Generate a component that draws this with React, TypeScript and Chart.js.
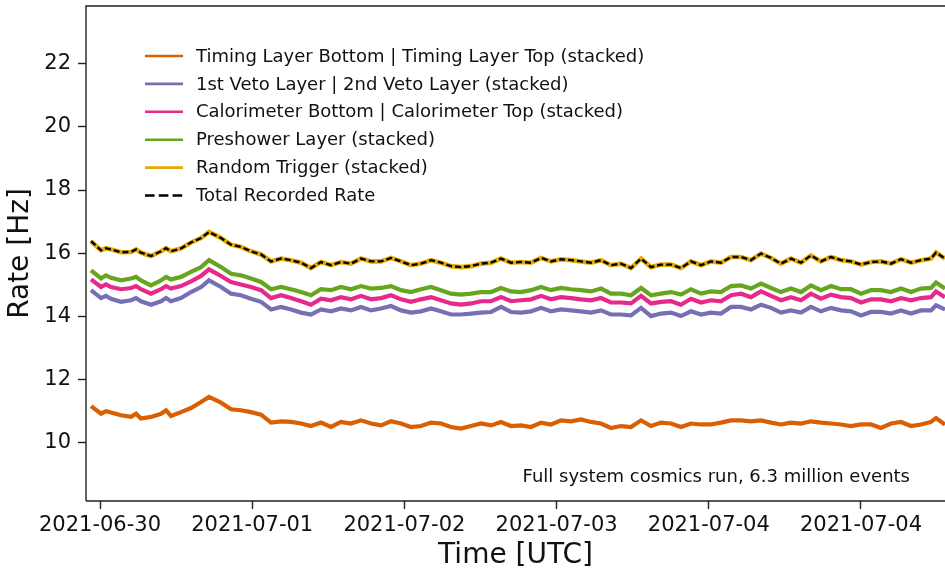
import React, { useEffect, useRef } from 'react';
import { Chart, registerables } from 'chart.js';

Chart.register(...registerables);

// time in days relative to the first date tick
const TIME_DAYS = [
  -0.059, 0.007, 0.039, 0.072, 0.138, 0.204, 0.237, 0.269, 0.335, 0.401, 0.434, 0.466, 0.532, 0.598, 0.664, 0.716, 0.795, 0.861, 0.926, 0.992, 1.058, 1.124, 1.189, 1.255,
  1.321, 1.386, 1.452, 1.518, 1.583, 1.649, 1.715, 1.781, 1.846, 1.912, 1.978, 2.043, 2.109, 2.175, 2.24, 2.306, 2.372, 2.438, 2.503, 2.569, 2.635, 2.7,
  2.766, 2.832, 2.898, 2.963, 3.029, 3.095, 3.16, 3.226, 3.292, 3.357, 3.423, 3.489, 3.555, 3.62, 3.686, 3.752, 3.817, 3.883, 3.949, 4.014, 4.08, 4.146,
  4.212, 4.277, 4.343, 4.409, 4.474, 4.54, 4.606, 4.671, 4.737, 4.803, 4.869, 4.934, 5.0, 5.066, 5.131, 5.197, 5.263, 5.329, 5.394, 5.46, 5.493, 5.552,
];

const TIMING_STACKED = [
  11.16, 10.92, 11.0, 10.96, 10.87, 10.82, 10.92, 10.77, 10.82, 10.92, 11.03, 10.85, 10.97, 11.1, 11.29, 11.45, 11.27, 11.06, 11.03, 10.97, 10.89, 10.64, 10.68, 10.66,
  10.61, 10.53, 10.64, 10.5, 10.66, 10.61, 10.71, 10.61, 10.55, 10.68, 10.61, 10.5, 10.53, 10.64, 10.61, 10.5, 10.45, 10.53, 10.61, 10.55, 10.66, 10.53,
  10.55, 10.5, 10.64, 10.58, 10.71, 10.68, 10.74, 10.66, 10.61, 10.47, 10.53, 10.5, 10.71, 10.53, 10.64, 10.61, 10.5, 10.61, 10.58, 10.58, 10.64, 10.71,
  10.71, 10.68, 10.71, 10.64, 10.58, 10.64, 10.61, 10.68, 10.64, 10.61, 10.58, 10.53, 10.58, 10.58, 10.47, 10.61, 10.66, 10.53, 10.58, 10.66, 10.78, 10.58,
];

const VETO_STACKED = [
  14.83, 14.58, 14.65, 14.56, 14.46, 14.51, 14.58, 14.48, 14.37, 14.48, 14.58, 14.48, 14.58, 14.77, 14.93, 15.14, 14.93, 14.72, 14.67, 14.56, 14.46, 14.22, 14.3, 14.22,
  14.12, 14.06, 14.22, 14.16, 14.25, 14.19, 14.3, 14.19, 14.25, 14.33, 14.19, 14.12, 14.16, 14.25, 14.16, 14.06, 14.06, 14.09, 14.12, 14.14, 14.3, 14.14,
  14.12, 14.16, 14.27, 14.16, 14.22, 14.19, 14.16, 14.12, 14.19, 14.06, 14.06, 14.03, 14.27, 14.01, 14.09, 14.12, 14.01, 14.16, 14.06, 14.12, 14.09, 14.3,
  14.3, 14.22, 14.37, 14.27, 14.12, 14.19, 14.12, 14.3, 14.16, 14.27, 14.19, 14.16, 14.03, 14.14, 14.14, 14.09, 14.19, 14.09, 14.19, 14.19, 14.35, 14.22,
];

const CALO_STACKED = [
  15.17, 14.93, 15.01, 14.93, 14.86, 14.9, 14.96, 14.86, 14.72, 14.86, 14.96, 14.88, 14.96, 15.11, 15.28, 15.49, 15.28, 15.09, 15.01, 14.93, 14.83, 14.58, 14.67, 14.58,
  14.48, 14.37, 14.56, 14.51, 14.61, 14.54, 14.65, 14.54, 14.58, 14.67, 14.54, 14.46, 14.54, 14.61, 14.51, 14.41, 14.37, 14.41, 14.48, 14.48, 14.61, 14.48,
  14.51, 14.54, 14.65, 14.54, 14.61, 14.58, 14.54, 14.51, 14.58, 14.44, 14.44, 14.41, 14.65, 14.41, 14.46, 14.48, 14.37, 14.56, 14.44, 14.51, 14.48, 14.67,
  14.72, 14.61, 14.79, 14.65, 14.51, 14.61, 14.51, 14.72, 14.56, 14.69, 14.61, 14.58, 14.44, 14.54, 14.54, 14.48, 14.58, 14.51, 14.58, 14.61, 14.79, 14.61,
];

const PRESHOWER_STACKED = [
  15.46, 15.2, 15.3, 15.22, 15.14, 15.2, 15.25, 15.14, 14.98, 15.14, 15.25, 15.17, 15.25, 15.41, 15.56, 15.78, 15.56, 15.35, 15.3, 15.2, 15.09, 14.86, 14.93, 14.86,
  14.77, 14.67, 14.86, 14.83, 14.93, 14.86, 14.96, 14.88, 14.9, 14.96, 14.83, 14.77, 14.86, 14.93, 14.83, 14.72, 14.69, 14.72, 14.77, 14.77, 14.9, 14.79,
  14.77, 14.83, 14.93, 14.83, 14.9, 14.86, 14.83, 14.79, 14.88, 14.72, 14.72, 14.67, 14.9, 14.67, 14.72, 14.77, 14.69, 14.86, 14.72, 14.79, 14.77, 14.96,
  14.98, 14.88, 15.04, 14.9, 14.77, 14.88, 14.77, 14.98, 14.83, 14.96, 14.86, 14.86, 14.72, 14.83, 14.83, 14.77, 14.88, 14.77, 14.88, 14.9, 15.07, 14.88,
];

const RANDOM_STACKED = [
  16.38, 16.09, 16.16, 16.12, 16.03, 16.04, 16.12, 16.02, 15.91, 16.06, 16.16, 16.06, 16.15, 16.34, 16.48, 16.67, 16.48, 16.27, 16.2, 16.06, 15.96, 15.74, 15.83, 15.78,
  15.7, 15.53, 15.72, 15.62, 15.72, 15.67, 15.83, 15.74, 15.74, 15.85, 15.74, 15.62, 15.67, 15.78, 15.7, 15.59, 15.56, 15.59, 15.67, 15.7, 15.83, 15.7,
  15.72, 15.7, 15.85, 15.74, 15.81, 15.78, 15.74, 15.7, 15.78, 15.62, 15.67, 15.53, 15.83, 15.56, 15.64, 15.64, 15.53, 15.74, 15.62, 15.74, 15.7, 15.88,
  15.88, 15.78, 15.99, 15.85, 15.67, 15.83, 15.7, 15.93, 15.74, 15.88, 15.78, 15.74, 15.64, 15.72, 15.74, 15.67, 15.81, 15.7, 15.78, 15.83, 16.02, 15.83,
];

const TOTAL_RATE = [
  16.38, 16.09, 16.16, 16.12, 16.03, 16.04, 16.12, 16.02, 15.91, 16.06, 16.16, 16.06, 16.15, 16.34, 16.48, 16.67, 16.48, 16.27, 16.2, 16.06, 15.96, 15.74, 15.83, 15.78,
  15.7, 15.53, 15.72, 15.62, 15.72, 15.67, 15.83, 15.74, 15.74, 15.85, 15.74, 15.62, 15.67, 15.78, 15.7, 15.59, 15.56, 15.59, 15.67, 15.7, 15.83, 15.7,
  15.72, 15.7, 15.85, 15.74, 15.81, 15.78, 15.74, 15.7, 15.78, 15.62, 15.67, 15.53, 15.83, 15.56, 15.64, 15.64, 15.53, 15.74, 15.62, 15.74, 15.7, 15.88,
  15.88, 15.78, 15.99, 15.85, 15.67, 15.83, 15.7, 15.93, 15.74, 15.88, 15.78, 15.74, 15.64, 15.72, 15.74, 15.67, 15.81, 15.7, 15.78, 15.83, 16.02, 15.83,
];

const SERIES_LABELS = [
  'Timing Layer Bottom | Timing Layer Top (stacked)',
  '1st Veto Layer | 2nd Veto Layer (stacked)',
  'Calorimeter Bottom | Calorimeter Top (stacked)',
  'Preshower Layer (stacked)',
  'Random Trigger (stacked)',
  'Total Recorded Rate',
];
const SERIES_COLORS = ['#d95f02', '#7570b3', '#e7298a', '#66a61e', '#e6ab02', '#000000'];

const X_TICK_VALUES = [0, 1, 2, 3, 4, 5];
const X_TICK_LABELS = ['2021-06-30', '2021-07-01', '2021-07-02', '2021-07-03', '2021-07-04', '2021-07-04'];
const Y_TICK_VALUES = [10, 12, 14, 16, 18, 20, 22];
const X_RANGE = [-0.092, 5.552];
const Y_RANGE = [8.158, 23.823];
const ANNOTATION = 'Full system cosmics run, 6.3 million events';

const FONT = "'DejaVu Sans', 'Liberation Sans', sans-serif";
const TEXT = '#111111';
const SPINE = '#222222';

const overlayPlugin = {
  id: 'overlay',
  afterDatasetsDraw(chart: any) {
    const { ctx, chartArea } = chart;
    ctx.save();
    // spines
    ctx.strokeStyle = SPINE;
    ctx.lineWidth = 1.4;
    ctx.setLineDash([]);
    ctx.beginPath();
    ctx.moveTo(chartArea.left, chartArea.bottom);
    ctx.lineTo(chartArea.left, chartArea.top);
    ctx.lineTo(chartArea.right + 2, chartArea.top);
    ctx.moveTo(chartArea.left, chartArea.bottom);
    ctx.lineTo(chartArea.right + 2, chartArea.bottom);
    ctx.stroke();

    // legend
    const lx0 = chartArea.left + 59;
    const lx1 = chartArea.left + 97;
    const tx = chartArea.left + 110;
    const y0 = chartArea.top + 50;
    const dy = 27.9;
    ctx.font = `18px ${FONT}`;
    ctx.textBaseline = 'middle';
    ctx.textAlign = 'left';
    chart.data.datasets.forEach((ds: any, i: number) => {
      const y = y0 + i * dy;
      ctx.strokeStyle = ds.borderColor;
      ctx.lineWidth = 2.6;
      ctx.setLineDash(ds.borderDash && ds.borderDash.length ? [9.6, 4.2] : []);
      ctx.beginPath();
      ctx.moveTo(lx0, y);
      ctx.lineTo(lx1, y);
      ctx.stroke();
      ctx.fillStyle = TEXT;
      ctx.fillText(ds.label, tx, y + 1);
    });
    ctx.setLineDash([]);

    // annotation
    ctx.font = `18px ${FONT}`;
    ctx.textAlign = 'right';
    ctx.fillStyle = TEXT;
    ctx.fillText(ANNOTATION, chartArea.left + 824, chartArea.bottom - 24);
    ctx.restore();
  },
};

export default function App() {
  const canvasRef = useRef<HTMLCanvasElement | null>(null);

  useEffect(() => {
    document.body.style.margin = '0';
    const canvas = canvasRef.current;
    if (!canvas) return;
    const seriesData = [TIMING_STACKED, VETO_STACKED, CALO_STACKED, PRESHOWER_STACKED, RANDOM_STACKED, TOTAL_RATE];
    const drawOrder = [5, 4, 3, 2, 1, 0];
    const widths = [4.2, 4.2, 4.2, 4.2, 4.6, 2.4];
    const datasets = seriesData.map((vals, i) => ({
      label: SERIES_LABELS[i],
      data: TIME_DAYS.map((t, j) => ({ x: t, y: vals[j] })),
      borderColor: SERIES_COLORS[i],
      backgroundColor: SERIES_COLORS[i],
      borderWidth: widths[i],
      borderDash: i === 5 ? [6, 3] : [],
      borderJoinStyle: 'miter' as const,
      pointRadius: 0,
      tension: 0,
      fill: false,
      order: drawOrder[i],
    }));

    const chart = new Chart(canvas, {
      type: 'line',
      data: { datasets },
      options: {
        responsive: false,
        animation: false,
        devicePixelRatio: 1,
        layout: { padding: { top: 6, right: 0, bottom: 0, left: 0 } },
        plugins: { legend: { display: false }, tooltip: { enabled: false } },
        scales: {
          x: {
            type: 'linear',
            min: X_RANGE[0],
            max: X_RANGE[1],
            afterBuildTicks: (s: any) => {
              s.ticks = X_TICK_VALUES.map((v) => ({ value: v }));
            },
            afterFit: (s: any) => {
              s.height = 70;
              s.paddingLeft = 0;
              s.paddingRight = 0;
            },
            ticks: {
              autoSkip: false,
              maxRotation: 0,
              minRotation: 0,
              padding: 4,
              color: TEXT,
              font: { family: FONT, size: 21 },
              callback: (value: any) => {
                const k = X_TICK_VALUES.indexOf(Number(value));
                return k >= 0 ? X_TICK_LABELS[k] : '';
              },
            },
            grid: { drawOnChartArea: false, drawTicks: true, tickLength: 8, tickColor: SPINE, tickWidth: 1.4 },
            border: { display: false },
            title: {
              display: true,
              text: 'Time [UTC]',
              color: TEXT,
              font: { family: FONT, size: 28, lineHeight: 1 },
              padding: { top: 0, bottom: 1 },
            },
          },
          y: {
            type: 'linear',
            min: Y_RANGE[0],
            max: Y_RANGE[1],
            afterBuildTicks: (s: any) => {
              s.ticks = Y_TICK_VALUES.map((v) => ({ value: v }));
            },
            afterFit: (s: any) => {
              s.width = 86;
              s.paddingTop = 0;
              s.paddingBottom = 0;
            },
            ticks: {
              padding: 7,
              color: TEXT,
              font: { family: FONT, size: 21 },
              callback: (value: any) => String(value),
            },
            grid: { drawOnChartArea: false, drawTicks: true, tickLength: 8, tickColor: SPINE, tickWidth: 1.4 },
            border: { display: false },
            title: {
              display: true,
              text: 'Rate [Hz]',
              color: TEXT,
              font: { family: FONT, size: 28, lineHeight: 1 },
              padding: { top: 7, bottom: 0 },
            },
          },
        },
      },
      plugins: [overlayPlugin],
    });
    return () => chart.destroy();
  }, []);

  return (
    <div style={{ width: 945, height: 571 }}>
      <canvas ref={canvasRef} width={945} height={571} style={{ display: 'block' }} />
    </div>
  );
}
